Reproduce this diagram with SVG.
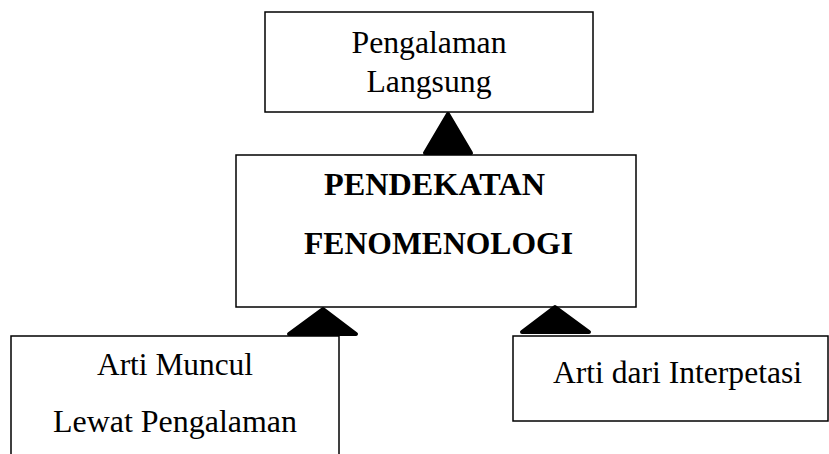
<svg xmlns="http://www.w3.org/2000/svg" width="829" height="454" viewBox="0 0 829 454">
<style>
.box{fill:#fff;stroke:#000;stroke-width:1.5}
.t{font-family:"Liberation Serif","Times New Roman",serif;font-size:32px;fill:#000}
.b{font-family:"Liberation Serif","Times New Roman",serif;font-size:31px;font-weight:bold;fill:#000}
.ah{fill:#000;stroke:#000;stroke-width:4;stroke-linejoin:round}
</style>
<rect width="829" height="454" fill="#fff"/>
<g id="node-pengalaman-langsung">
<rect class="box" x="265" y="12" width="328" height="100"/>
<text class="t" x="351.5" y="53" textLength="155" lengthAdjust="spacingAndGlyphs">Pengalaman</text>
<text class="t" x="366.5" y="92" textLength="125" lengthAdjust="spacingAndGlyphs">Langsung</text>
</g>
<g id="node-pendekatan">
<rect class="box" x="236" y="155" width="400" height="152"/>
<text class="b" x="324" y="195" textLength="221" lengthAdjust="spacingAndGlyphs">PENDEKATAN</text>
<text class="b" x="304" y="254" textLength="269" lengthAdjust="spacingAndGlyphs">FENOMENOLOGI</text>
</g>
<g id="node-arti-muncul">
<rect class="box" x="11" y="336" width="328" height="130"/>
<text class="t" x="97" y="375" textLength="156" lengthAdjust="spacingAndGlyphs">Arti Muncul</text>
<text class="t" x="53" y="432" textLength="244" lengthAdjust="spacingAndGlyphs">Lewat Pengalaman</text>
</g>
<g id="node-arti-interpetasi">
<rect class="box" x="513" y="336" width="315" height="85"/>
<text class="t" x="553" y="383" textLength="249" lengthAdjust="spacingAndGlyphs">Arti dari Interpetasi</text>
</g>
<g id="connectors">
<path class="ah" d="M448,114 L471,153 L425,153 Z"/>
<path class="ah" d="M323,309 L356,334 L289,334 Z"/>
<path class="ah" d="M555,307 L589,332 L522,332 Z"/>
</g>
</svg>
